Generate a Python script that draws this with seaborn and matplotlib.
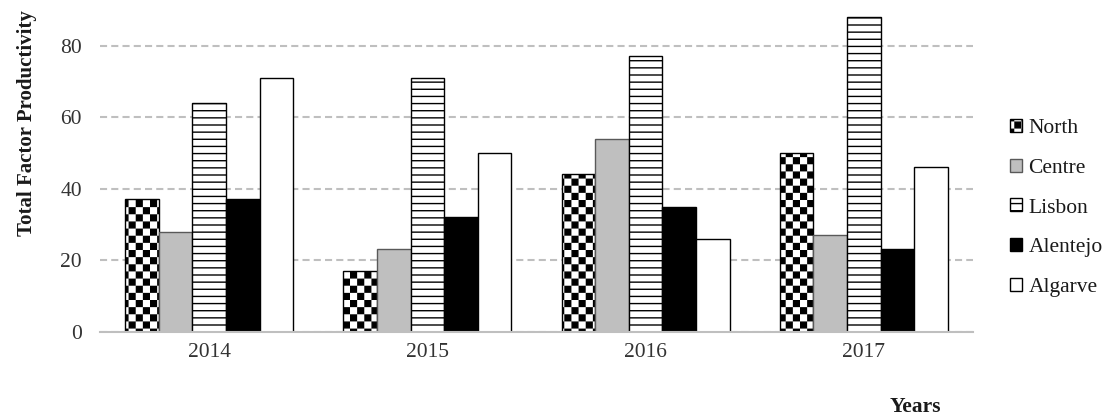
import numpy as np
import pandas as pd
import matplotlib
matplotlib.use("Agg")
import matplotlib.pyplot as plt
import seaborn as sns
from matplotlib import hatch as mhatch
from matplotlib.path import Path

# ---- data ----
years = ["2014", "2015", "2016", "2017"]
regions = ["North", "Centre", "Lisbon", "Alentejo", "Algarve"]
north = [37, 17, 44, 50]
centre = [28, 23, 54, 27]
lisbon = [64, 71, 77, 88]
alentejo = [37, 32, 35, 23]
algarve = [71, 50, 26, 46]

fills = ["white", "#bfbfbf", "white", "black", "white"]
edges = ["black", "#595959", "black", "black", "black"]
hatches = ["O", None, "-", None, None]


# ---- custom hatches: checkerboard for 'O', denser horizontal lines for '-' ----
class CheckerHatch(mhatch.HatchPatternBase):
    def __init__(self, hatch, density):
        self.n = 14 if "O" in hatch else 0
        self.num_vertices = self.n * self.n // 2 * 5

    def set_vertices_and_codes(self, vertices, codes):
        s = 1.0 / self.n
        d = 0.007  # inset so the stroke does not fatten the squares
        k = 0
        for i in range(self.n):
            for j in range(self.n):
                if (i + j) % 2:
                    continue
                x0, y0 = i * s + d, j * s + d
                x1, y1 = (i + 1) * s - d, (j + 1) * s - d
                vertices[k:k + 5] = [(x0, y0), (x1, y0), (x1, y1), (x0, y1), (x0, y0)]
                codes[k:k + 5] = [Path.MOVETO, Path.LINETO, Path.LINETO,
                                  Path.LINETO, Path.CLOSEPOLY]
                k += 5


class LineHatch(mhatch.HatchPatternBase):
    def __init__(self, hatch, density):
        self.n = 14 * hatch.count("-")
        self.num_vertices = self.n * 2

    def set_vertices_and_codes(self, vertices, codes):
        ys = np.arange(self.n) / self.n + 0.5 / self.n
        vertices[0::2, 0] = 0.0
        vertices[1::2, 0] = 1.0
        vertices[0::2, 1] = ys
        vertices[1::2, 1] = ys
        codes[0::2] = Path.MOVETO
        codes[1::2] = Path.LINETO


mhatch._hatch_types = [t for t in mhatch._hatch_types
                       if t not in (mhatch.HorizontalHatch, mhatch.LargeCircles)]
mhatch._hatch_types += [CheckerHatch, LineHatch]

# ---- long-form table ----
df = pd.DataFrame(
    {"North": north, "Centre": centre, "Lisbon": lisbon,
     "Alentejo": alentejo, "Algarve": algarve},
    index=years,
).reset_index(names="Year").melt(id_vars="Year", var_name="Region", value_name="TFP")

sns.set_theme(style="white")
plt.rcParams["font.family"] = ["Liberation Serif", "DejaVu Serif"]
plt.rcParams["hatch.linewidth"] = 1.0

fig = plt.figure(figsize=(11.1, 4.2), dpi=100)
ax = fig.add_axes([100 / 1110, 1 - 331.7 / 420, 873 / 1110, 321.75 / 420])

sns.barplot(data=df, x="Year", y="TFP", hue="Region", hue_order=regions,
            palette=fills, saturation=1, width=0.77, edgecolor="black",
            linewidth=1.0, legend=False, ax=ax)

for cont, hatch, edge in zip(ax.containers, hatches, edges):
    for p in cont:
        p.set_edgecolor(edge)
        if hatch:
            p.set_hatch(hatch)

ax.set_ylim(0, 90)
ax.set_yticks([0, 20, 40, 60, 80])
ax.set_axisbelow(True)
ax.yaxis.grid(True, color="#bfbfbf", linestyle=(0, (3.4, 2.0)), linewidth=1.5)
ax.xaxis.grid(False)
sns.despine(ax=ax, left=True)
ax.spines["bottom"].set_color("#bfbfbf")
ax.spines["bottom"].set_linewidth(1.5)
ax.tick_params(axis="both", length=0, labelsize=15.5, labelcolor="#333333")
ax.tick_params(axis="x", pad=8)
ax.tick_params(axis="y", pad=13)

ax.set_ylabel("Total Factor Productivity", fontsize=15, fontweight="bold", color="#1a1a1a")
ax.yaxis.set_label_coords(-0.072, 0.65)
ax.set_xlabel("Years", fontsize=15.5, fontweight="bold", color="#1a1a1a")
ax.xaxis.set_label_coords(0.934, -0.203)

ax.legend(ax.containers, regions, loc="center left",
          bbox_to_anchor=(1010 / 1110, 1 - 208 / 420), bbox_transform=fig.transFigure,
          frameon=False, fontsize=15.5, handlelength=0.55, handleheight=0.55,
          handletextpad=0.3, labelspacing=0.95, borderpad=0, borderaxespad=0,
          labelcolor="#1a1a1a")

fig.savefig("out.png", dpi=100)
